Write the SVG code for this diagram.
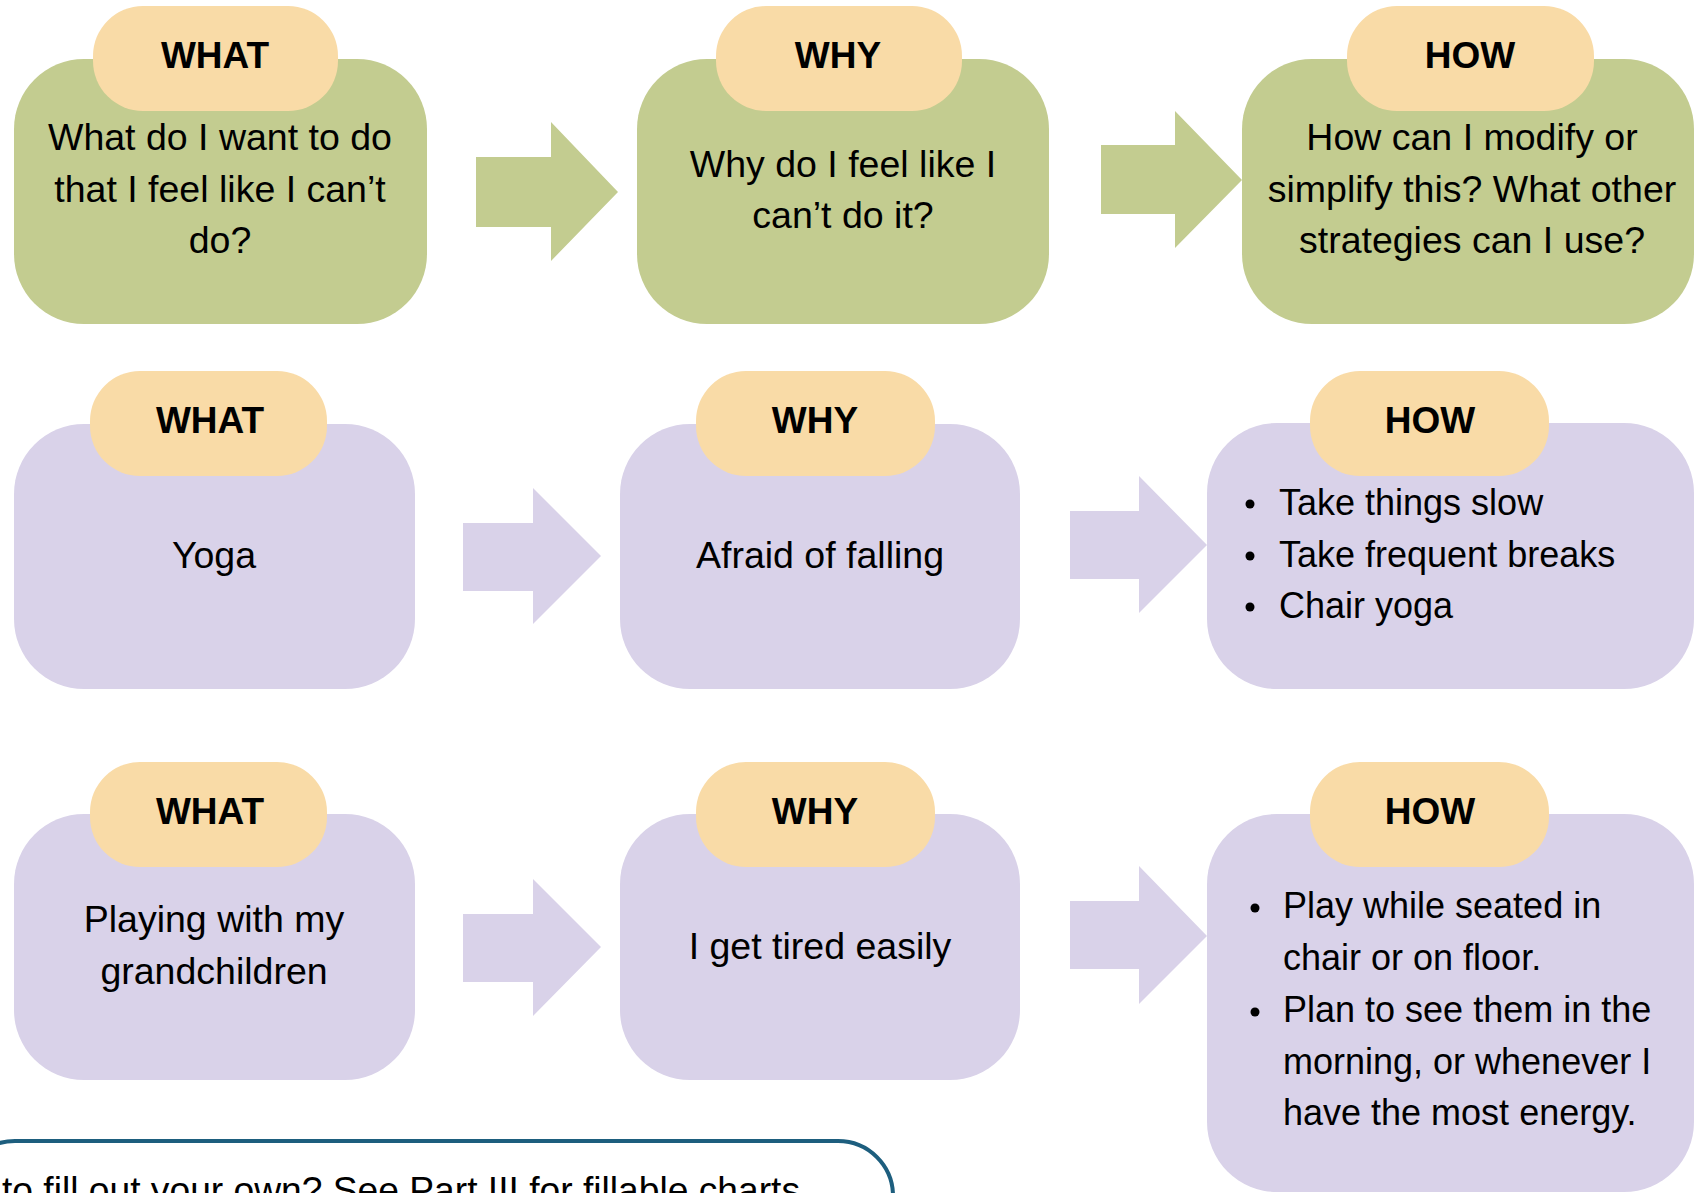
<svg xmlns="http://www.w3.org/2000/svg" width="1694" height="1193" viewBox="0 0 1694 1193">
<style>
.g{fill:#C3CC90}
.p{fill:#D9D2E9}
.t{fill:#F9DBA7}
.lbl{font-family:"Liberation Sans",Arial,sans-serif;font-weight:bold;font-size:37px;fill:#000;text-anchor:middle}
.body{font-family:"Liberation Sans",Arial,sans-serif;font-size:37.5px;fill:#000;text-anchor:middle}
.bl{font-family:"Liberation Sans",Arial,sans-serif;font-size:36px;fill:#000}
</style>
<rect width="1694" height="1193" fill="#fff"/>
<g id="connectors">
<polygon class="g" points="476,157 551,157 551,122 618,192 551,261 551,227 476,227"/>
<polygon class="g" points="1101,145 1175,145 1175,111 1242,180 1175,248 1175,214 1101,214"/>
<polygon class="p" points="463,523 533,523 533,488 601,556 533,624 533,591 463,591"/>
<polygon class="p" points="1070,511 1139,511 1139,476 1207,545 1139,613 1139,579 1070,579"/>
<polygon class="p" points="463,914 533,914 533,879 601,947 533,1016 533,982 463,982"/>
<polygon class="p" points="1070,901 1139,901 1139,866 1207,936 1139,1004 1139,969 1070,969"/>
</g>
<g id="what1">
<rect class="g" x="14" y="59" width="413" height="265" rx="70"/>
<rect class="t" x="93" y="6" width="245" height="105" rx="50"/>
<text class="lbl" x="215" y="68">WHAT</text>
<text class="body" x="220" y="150">What do I want to do</text>
<text class="body" x="220" y="202">that I feel like I can’t</text>
<text class="body" x="220" y="253">do?</text>
</g>
<g id="why1">
<rect class="g" x="637" y="59" width="412" height="265" rx="70"/>
<rect class="t" x="716" y="6" width="246" height="105" rx="50"/>
<text class="lbl" x="838" y="68">WHY</text>
<text class="body" x="843" y="177">Why do I feel like I</text>
<text class="body" x="843" y="228">can’t do it?</text>
</g>
<g id="how1">
<rect class="g" x="1242" y="59" width="452" height="265" rx="70"/>
<rect class="t" x="1347" y="6" width="247" height="105" rx="50"/>
<text class="lbl" x="1470" y="68">HOW</text>
<text class="body" x="1472" y="150">How can I modify or</text>
<text class="body" x="1472" y="202">simplify this? What other</text>
<text class="body" x="1472" y="253">strategies can I use?</text>
</g>
<g id="what2">
<rect class="p" x="14" y="424" width="401" height="265" rx="70"/>
<rect class="t" x="90" y="371" width="237" height="105" rx="50"/>
<text class="lbl" x="210" y="433">WHAT</text>
<text class="body" x="214" y="568">Yoga</text>
</g>
<g id="why2">
<rect class="p" x="620" y="424" width="400" height="265" rx="70"/>
<rect class="t" x="696" y="371" width="239" height="105" rx="50"/>
<text class="lbl" x="815" y="433">WHY</text>
<text class="body" x="820" y="568">Afraid of falling</text>
</g>
<g id="how2">
<rect class="p" x="1207" y="423" width="487" height="266" rx="70"/>
<rect class="t" x="1310" y="371" width="239" height="105" rx="50"/>
<text class="lbl" x="1430" y="433">HOW</text>
<circle cx="1250" cy="504" r="4.5"/>
<circle cx="1250" cy="556" r="4.5"/>
<circle cx="1250" cy="607" r="4.5"/>
<text class="bl" x="1279" y="515">Take things slow</text>
<text class="bl" x="1279" y="567">Take frequent breaks</text>
<text class="bl" x="1279" y="618">Chair yoga</text>
</g>
<g id="what3">
<rect class="p" x="14" y="814" width="401" height="266" rx="70"/>
<rect class="t" x="90" y="762" width="237" height="105" rx="50"/>
<text class="lbl" x="210" y="824">WHAT</text>
<text class="body" x="214" y="932">Playing with my</text>
<text class="body" x="214" y="984">grandchildren</text>
</g>
<g id="why3">
<rect class="p" x="620" y="814" width="400" height="266" rx="70"/>
<rect class="t" x="696" y="762" width="239" height="105" rx="50"/>
<text class="lbl" x="815" y="824">WHY</text>
<text class="body" x="820" y="959">I get tired easily</text>
</g>
<g id="how3">
<rect class="p" x="1207" y="814" width="487" height="378" rx="70"/>
<rect class="t" x="1310" y="762" width="239" height="105" rx="50"/>
<text class="lbl" x="1430" y="824">HOW</text>
<circle cx="1255" cy="908" r="4.5"/>
<circle cx="1255" cy="1012" r="4.5"/>
<text class="bl" x="1283" y="918">Play while seated in</text>
<text class="bl" x="1283" y="970">chair or on floor.</text>
<text class="bl" x="1283" y="1022">Plan to see them in the</text>
<text class="bl" x="1283" y="1074">morning, or whenever I</text>
<text class="bl" x="1283" y="1125">have the most energy.</text>
</g>
<g id="note">
<rect x="-40" y="1141" width="933" height="200" rx="55" fill="none" stroke="#1D5E7E" stroke-width="4"/>
<text class="bl" x="2" y="1203" font-size="37" textLength="798" lengthAdjust="spacingAndGlyphs">to fill out your own? See Part III for fillable charts</text>
</g>
</svg>
